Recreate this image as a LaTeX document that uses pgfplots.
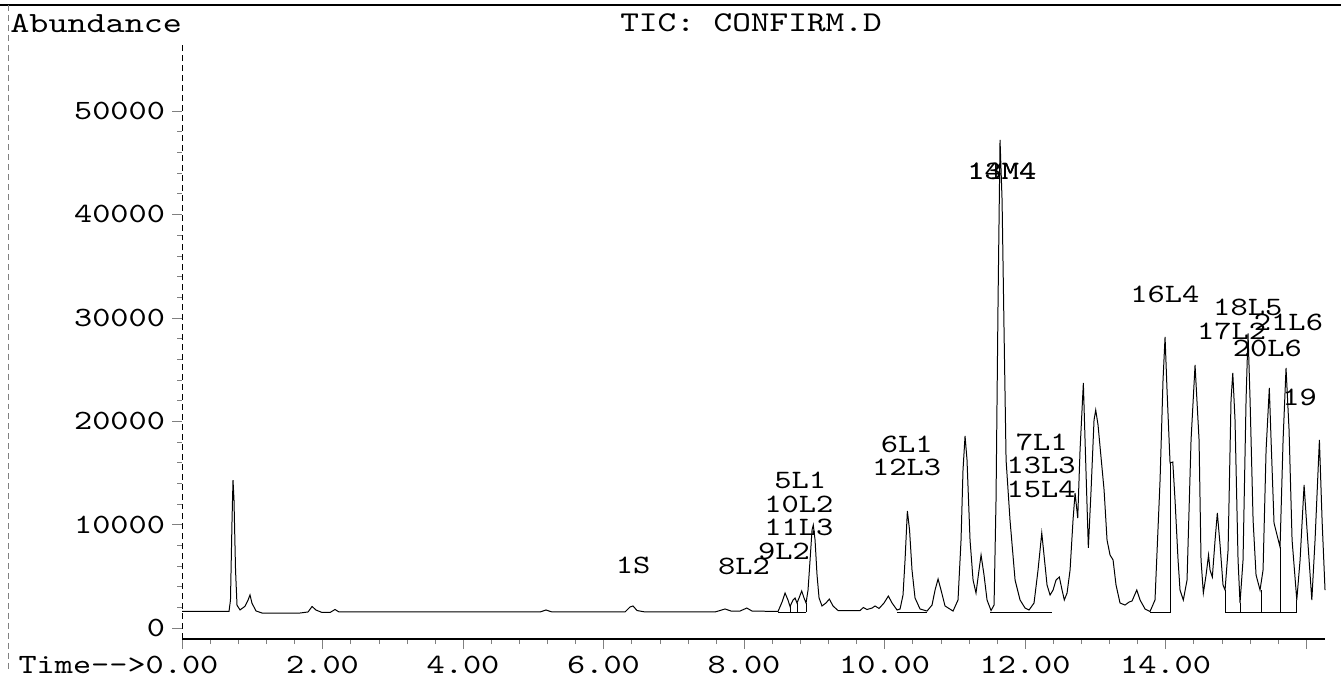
\documentclass[border=0pt]{standalone}
\usepackage{fontspec}
\usepackage{pgfplots}
\pgfplotsset{compat=1.18}
\newfontfamily\cour{lmmono10-regular.otf}[FakeStretch=1.24]

% total ion chromatogram, time (min) vs abundance
\pgfplotstableread{
x y
0.000 1600
0.669 1600
0.690 2700
0.712 10400
0.726 14300
0.740 12400
0.762 5600
0.783 2200
0.826 1750
0.897 2100
0.940 2700
0.968 3200
0.996 2400
1.053 1650
1.139 1450
1.680 1450
1.794 1550
1.851 2080
1.907 1740
1.993 1500
2.107 1500
2.178 1790
2.235 1550
2.391 1550
5.096 1550
5.181 1740
5.267 1550
6.306 1550
6.377 2030
6.420 2130
6.477 1690
6.591 1550
7.587 1550
7.658 1690
7.730 1840
7.815 1640
7.943 1640
8.039 1930
8.114 1640
8.484 1600
8.541 2510
8.584 3380
8.626 2700
8.655 2080
8.697 2700
8.726 2900
8.754 2420
8.783 2900
8.821 3580
8.854 2900
8.883 2420
8.911 3670
8.940 6580
8.968 9480
8.986 9960
9.011 8510
9.039 5130
9.068 2900
9.110 2130
9.167 2420
9.214 2800
9.267 2130
9.338 1690
9.651 1690
9.698 1980
9.751 1790
9.822 1930
9.865 2130
9.922 1890
9.993 2420
10.054 3090
10.107 2420
10.178 1740
10.221 1840
10.263 3190
10.292 6580
10.325 11310
10.356 9480
10.391 5610
10.434 2900
10.505 1840
10.605 1640
10.676 2220
10.719 3670
10.762 4740
10.804 3670
10.861 2130
10.975 1640
11.046 2710
11.089 8510
11.117 15280
11.146 18570
11.174 16250
11.217 8510
11.260 4640
11.302 3380
11.345 5610
11.374 7060
11.416 5130
11.459 2710
11.516 1690
11.559 2220
11.587 12380
11.616 31720
11.644 47190
11.673 41390
11.701 28820
11.730 16250
11.786 10440
11.858 4640
11.929 2710
12.000 1930
12.057 1740
12.128 2420
12.185 5610
12.238 9190
12.270 7060
12.313 4160
12.356 3190
12.399 3670
12.441 4640
12.488 4930
12.527 3670
12.559 2710
12.598 3380
12.641 5610
12.683 10440
12.712 13050
12.750 10640
12.783 17210
12.830 23690
12.854 18180
12.901 7740
12.940 13350
12.982 20110
13.006 21080
13.039 19630
13.068 17500
13.125 13350
13.167 8510
13.210 7060
13.253 6580
13.295 4160
13.352 2420
13.423 2220
13.480 2510
13.523 2610
13.590 3670
13.637 2710
13.708 1840
13.779 1600
13.850 2710
13.922 14310
13.964 23980
13.993 28140
14.021 23020
14.064 15960
14.103 16050
14.135 12380
14.178 6580
14.206 3670
14.253 2710
14.306 4640
14.363 18180
14.420 25430
14.477 18180
14.505 6580
14.538 3380
14.577 5130
14.612 7060
14.633 5610
14.666 4930
14.705 8510
14.737 11120
14.776 8030
14.818 4160
14.847 3670
14.890 7540
14.932 22050
14.957 24660
14.989 20110
15.032 6580
15.060 2420
15.103 6580
15.146 22050
15.174 28500
15.203 22050
15.246 10440
15.288 5130
15.345 3670
15.388 5610
15.431 17210
15.477 23210
15.502 18180
15.544 10150
15.587 8990
15.630 7830
15.673 18180
15.715 25140
15.758 19150
15.801 8510
15.868 2710
15.915 6580
15.972 13830
16.014 9480
16.082 2710
16.128 8510
16.190 18180
16.228 10440
16.270 3670
}\tic

\begin{document}
\begin{tikzpicture}[x=1bp,y=1bp]
\path[use as bounding box] (0,0) rectangle (670.5,342.5);
\draw[line width=0.8pt] (0,340) -- (670.5,340);
\draw[line width=0.4pt, densely dashed, gray] (4,340) -- (4,8);
\node[font=\cour\fontsize{14.7}{17}\selectfont, anchor=west, inner sep=0pt] at (5,331) {Abundance};
\node[font=\cour\fontsize{14.4}{17}\selectfont, inner sep=0pt] at (375.5,331) {TIC: CONFIRM.D};

\begin{axis}[
  at={(91bp,23bp)}, anchor=south west,
  scale only axis, width=571.5bp, height=298bp,
  xmin=0, xmax=16.27, ymin=-1064, ymax=56570,
  axis lines=left, axis line style={-},
  y axis line style={densely dashed, line width=0.3pt},
  x axis line style={line width=0.6pt},
  tick align=outside,
  major tick length=5bp, minor tick length=2.5bp,
  scaled y ticks=false, scaled x ticks=false,
  xtick={0,2,...,16},
  xticklabels={\llap{Time-{}-{}>}0.00,2.00,4.00,6.00,8.00,10.00,12.00,14.00,{}},
  minor x tick num=4,
  ytick={0,10000,20000,30000,40000,50000},
  yticklabels={0,10000,20000,30000,40000,50000},
  minor y tick num=4,
  ticklabel style={font=\cour\fontsize{14}{16}\selectfont},
  clip=false,
]
\addplot[black, line width=0.5pt, mark=none] table[x=x, y=y] {\tic};
% integration baselines and drop lines
\addplot[black, line width=0.4pt] coordinates {(8.484,1500) (8.883,1500)};
\addplot[black, line width=0.4pt] coordinates {(8.655,1500) (8.655,2080)};
\addplot[black, line width=0.4pt] coordinates {(8.754,1500) (8.754,2420)};
\addplot[black, line width=0.4pt] coordinates {(8.883,1500) (8.883,2420)};
\addplot[black, line width=0.4pt] coordinates {(10.178,1500) (10.605,1500)};
\addplot[black, line width=0.4pt] coordinates {(11.502,1500) (12.380,1500)};
\addplot[black, line width=0.4pt] coordinates {(13.779,1500) (14.064,1500) (14.064,15960)};
\addplot[black, line width=0.4pt] coordinates {(14.847,3670) (14.847,1500) (15.868,1500) (15.868,2710)};
\addplot[black, line width=0.4pt] coordinates {(15.060,1500) (15.060,2420)};
\addplot[black, line width=0.4pt] coordinates {(15.359,1500) (15.359,3670)};
\addplot[black, line width=0.4pt] coordinates {(15.630,1500) (15.630,7830)};

\begin{scope}[every node/.style={font=\cour\fontsize{13.3}{15}\selectfont, inner sep=0pt}]
\node at (axis cs:6.42,6090) {1S};
\node at (axis cs:8.00,5930) {8L2};
\node at (axis cs:8.57,7450) {9L2};
\node at (axis cs:8.78,9720) {11L3};
\node at (axis cs:8.78,12000) {10L2};
\node at (axis cs:8.80,14250) {5L1};
\node at (axis cs:10.316,17760) {6L1};
\node at (axis cs:10.316,15540) {12L3};
\node at (axis cs:11.67,44190) {13M4};
\node at (axis cs:11.67,44190) {14M4};
\node at (axis cs:12.238,17920) {7L1};
\node at (axis cs:12.23,15700) {13L3};
\node at (axis cs:12.23,13440) {15L4};
\node at (axis cs:13.99,32300) {16L4};
\node at (axis cs:15.17,31010) {18L5};
\node at (axis cs:14.94,28650) {17L2};
\node at (axis cs:15.75,29560) {21L6};
\node at (axis cs:15.45,27050) {20L6};
\node at (axis cs:15.91,22310) {19};
\end{scope}
\end{axis}
\end{tikzpicture}
\end{document}
